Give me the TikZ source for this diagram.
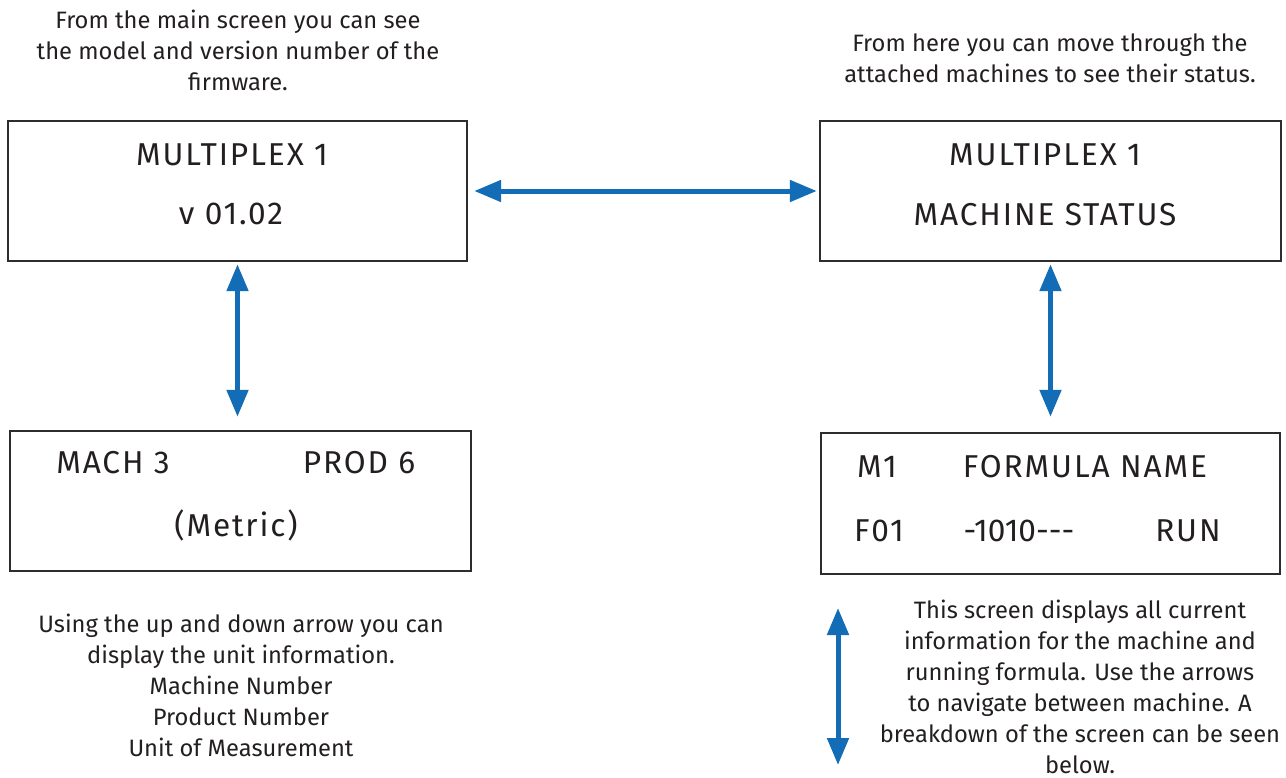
\documentclass[tikz,border=0pt]{standalone}
\usepackage{fontspec}
\setmainfont{Fira Sans}
\newfontfamily\lcdfont[LetterSpace=6]{Fira Sans}
\usetikzlibrary{arrows.meta,calc,positioning}
\definecolor{navblue}{RGB}{18,108,182}
\definecolor{inkgray}{RGB}{35,31,32}
\definecolor{framegray}{RGB}{45,45,45}

\begin{document}
\begin{tikzpicture}[>={Triangle[length=0.54cm,width=0.42cm]},x=0.02cm,y=-0.02cm,
  screen/.style={draw=framegray,line width=1.4pt,minimum height=2.8cm,inner sep=0pt},
  lcd/.style={anchor=base,text=inkgray,font=\lcdfont\fontsize{18}{20}\selectfont},
  note/.style={anchor=north,align=center,text=inkgray,font=\fontsize{13.5}{17.6}\selectfont},
  nav/.style={<->,navblue,line width=0.1cm}]
  \useasboundingbox (0,0) rectangle (1286,778);
  \node[screen,minimum width=9.18cm] (main) at (237.5,191) {};
  \node[screen,minimum width=9.22cm] (status) at (1050.5,191) {};
  \node[screen,minimum width=9.22cm] (unit) at (240.5,501) {};
  \node[screen,minimum width=9.18cm,minimum height=2.82cm] (machine) at (1050.5,503.5) {};
  \node[lcd] (mainA) at (232,165) {MULTIPLEX 1};
  \node[lcd] (mainB) at (231,224) {v 01.02};
  \node[lcd] (statusA) at (1045,165) {MULTIPLEX 1};
  \node[lcd] (statusB) at (1045,225) {MACHINE STATUS};
  \node[lcd] (unitA) at (113,473) {MACH 3};
  \node[lcd] (unitB) at (359,473) {PROD 6};
  \node[lcd] (unitC) at (236,536) {(Metric)};
  \node[lcd] (machA) at (877,477) {M1};
  \node[lcd] (machB) at (1085,477) {FORMULA NAME};
  \node[lcd] (machC) at (879,541) {F01};
  \node[lcd,font=\fontsize{18}{20}\selectfont] (machD) at (1019,541) {-1010{-}{-}{-}};
  \node[lcd] (machE) at (1188,541) {RUN};
  \node[note] (noteMain) at (238,4) {From the main screen you can see\\the model and version number of the\\firmware.};
  \node[note] (noteStatus) at (1050,28) {From here you can move through the\\attached machines to see their status.};
  \node[note] (noteUnit) at (241,608) {Using the up and down arrow you can\\display the unit information.\\Machine Number\\Product Number\\Unit of Measurement};
  \node[note] (noteMachine) at (1080,594) {This screen displays all current\\information for the machine and\\running formula. Use the arrows\\to navigate between machine. A\\breakdown of the screen can be seen\\below.};
  \coordinate (upEnd) at (838,608);
  \coordinate (downEnd) at (838,765);
  \draw[nav,shorten <=0.12cm,shorten >=0.04cm] (main.east) -- (status.west);
  \draw[nav,shorten <=0.04cm,shorten >=0.26cm] (main.south) -- (main.south |- unit.north);
  \draw[nav,shorten <=0.04cm,shorten >=0.3cm] (status.south) -- (status.south |- machine.north);
  \draw[nav] (upEnd) -- (downEnd);
\end{tikzpicture}
\end{document}
